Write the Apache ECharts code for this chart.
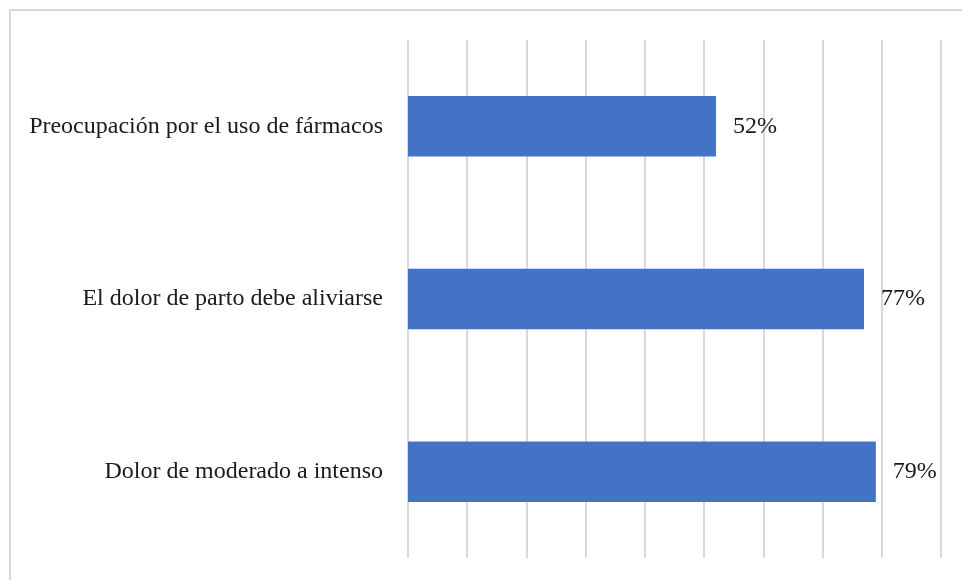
<!DOCTYPE html>
<html>
<head>
<meta charset="utf-8">
<script src="https://cdn.jsdelivr.net/npm/echarts@6/dist/echarts.min.js"></script>
<style>html,body{margin:0;padding:0;background:#fff;}#c{width:962px;height:580px;}</style>
</head>
<body>
<div id="c"></div>
<script>
const categories = ["Preocupación por el uso de fármacos", "El dolor de parto debe aliviarse", "Dolor de moderado a intenso"];
const values = [52, 77, 79];
const axisMax = 90;
const axisInterval = 10;

const chart = echarts.init(document.getElementById('c'));
chart.setOption({
  animation: false,
  backgroundColor: '#ffffff',
  graphic: [{
    type: 'rect', silent: true,
    shape: { x: 10, y: 10, width: 1000, height: 1000 },
    style: { fill: 'none', stroke: '#d9d9d9', lineWidth: 2 }
  }],
  grid: { left: 408, right: 21, top: 40, bottom: 22, containLabel: false },
  xAxis: {
    type: 'value', min: 0, max: axisMax, interval: axisInterval,
    axisLabel: { show: false }, axisLine: { show: false }, axisTick: { show: false },
    splitLine: { show: true, lineStyle: { color: '#d9d9d9', width: 2 } }
  },
  yAxis: {
    type: 'category', data: categories, inverse: true,
    axisLine: { show: false }, axisTick: { show: false },
    axisLabel: { margin: 25, color: '#1a1a1a', fontFamily: 'Liberation Serif', fontSize: 24, padding: [4, 0, 0, 0] }
  },
  series: [{
    type: 'bar', data: values, barWidth: '35%',
    itemStyle: { color: '#4472C4' },
    label: {
      show: true, position: 'right', distance: 17,
      formatter: p => p.value + '%',
      color: '#1a1a1a', fontFamily: 'Liberation Serif', fontSize: 24, padding: [4, 0, 0, 0]
    }
  }]
});
</script>
</body>
</html>
